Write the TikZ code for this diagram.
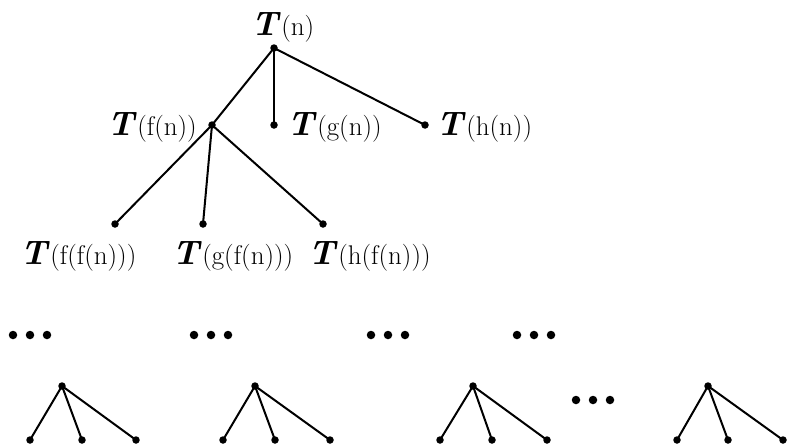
\documentclass[tikz,border=0pt]{standalone}
\usepackage{fontspec}
\newcommand{\TT}[1]{{\fontsize{34}{38}\selectfont\bfseries\itshape T}\kern3pt{\fontsize{27}{31}\selectfont #1}}
\tikzset{
  vdot/.style={circle,fill=black,inner sep=0pt,minimum size=7.5pt},
  edot/.style={circle,fill=black,inner sep=0pt,minimum size=8.5pt},
  lbl/.style={inner sep=0pt,anchor=base west},
  edge/.style={line width=2pt}
}
\begin{document}
\begin{tikzpicture}[x=1pt,y=-1pt]
\useasboundingbox (0,0) rectangle (788,447);
% main tree
\node[vdot] (r) at (274,48) {};
\node[vdot] (f) at (212,125) {};
\node[vdot] (g) at (274,125) {};
\node[vdot] (h) at (425,125) {};
\node[vdot] (ff) at (115,224) {};
\node[vdot] (gf) at (203,224) {};
\node[vdot] (hf) at (323,224) {};
\draw[edge] (r.center) -- (f.center);
\draw[edge] (r.center) -- (g.center);
\draw[edge] (r.center) -- (h.center);
\draw[edge] (f.center) -- (ff.center);
\draw[edge] (f.center) -- (gf.center);
\draw[edge] (f.center) -- (hf.center);
% labels
\node[lbl] (lr) at (251,35) {\TT{(n)}};
\node[lbl,anchor=base east] (lf) at (197,135) {\TT{(f(n))}};
\node[lbl] (lg) at (287,135) {\TT{(g(n))}};
\node[lbl] (lh) at (436,135) {\TT{(h(n))}};
\node[lbl] (lff) at (20,264) {\TT{(f(f(n)))}};
\node[lbl] (lgf) at (172,264) {\TT{(g(f(n)))}};
\node[lbl] (lhf) at (308,264) {\TT{(h(f(n)))}};
% ellipses
\foreach \n/\x/\y in {a/13/335,b/194/335,c/371/335,d/517/335,e/576/400}{
  \node[edot] (\n1) at (\x,\y) {};
  \node[edot] (\n2) at (\x+17,\y) {};
  \node[edot] (\n3) at (\x+34,\y) {};
}
% small trees
\foreach \t/\rx/\la/\lb/\lc in {1/62/30/82/136,2/255/223/275/330,3/473/440/492/547,4/708/677/728/783}{
  \node[vdot] (s\t) at (\rx,386) {};
  \node[vdot] (s\t a) at (\la,440) {};
  \node[vdot] (s\t b) at (\lb,440) {};
  \node[vdot] (s\t c) at (\lc,440) {};
  \draw[edge] (s\t.center) -- (s\t a.center);
  \draw[edge] (s\t.center) -- (s\t b.center);
  \draw[edge] (s\t.center) -- (s\t c.center);
}
\end{tikzpicture}
\end{document}
